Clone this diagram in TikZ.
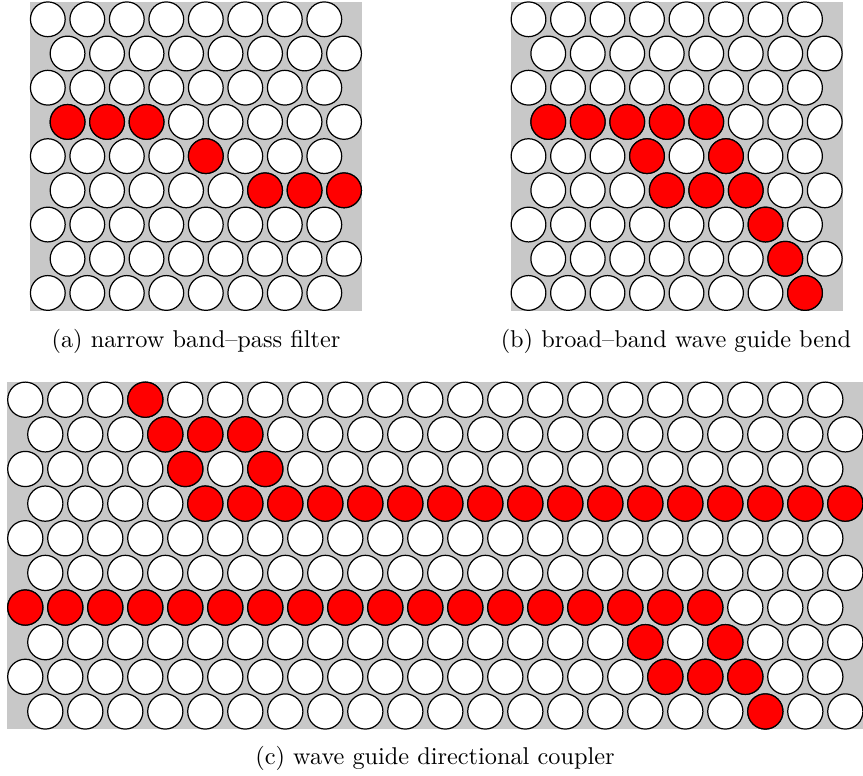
\documentclass[tikz,border=0pt]{standalone}
\usepackage{tikz}
\definecolor{hostgray}{RGB}{200,200,200}
\definecolor{rodred}{RGB}{255,0,0}
\tikzset{
  rod/.style={draw=black, line width=0.5pt, fill=white},
  defect/.style={rod, fill=rodred},
  slab/.style={fill=hostgray},
  caplabel/.style={inner sep=0pt, anchor=base}
}
% one rod of the triangular lattice, odd rows shifted by half a period
\newcommand{\placerod}[3][rod]{%
  \draw[#1] ({#2+0.5*mod(#3,2)},{-0.866*#3}) circle (0.44);}
% background slab and all rods
\newcommand{\rodlattice}[2]{%
  \pgfmathtruncatemacro{\lastcol}{#1-1}%
  \pgfmathtruncatemacro{\lastrow}{#2-1}%
  \fill[slab] (-0.45,0.45) rectangle ({\lastcol+0.95},{-0.866*\lastrow-0.45});
  \foreach \r in {0,...,\lastrow} {
    \foreach \c in {0,...,\lastcol} {\placerod{\c}{\r}}
  }
}

\begin{document}
\begin{tikzpicture}[x=0.41152pt,y=-0.41152pt]
\useasboundingbox (0,0) rectangle (863,776);

% (a) filter
\begin{scope}[shift={(47.8,19.3)},x=16.255pt,y=16.255pt]
  \rodlattice{8}{9}
  \foreach \c/\r in {0/3,1/3,2/3,4/4,5/5,6/5,7/5} {\placerod[defect]{\c}{\r}}
\end{scope}

% (b) bend
\begin{scope}[shift={(528.5,19.3)},x=16.255pt,y=16.255pt]
  \rodlattice{8}{9}
  \foreach \c/\r in {0/3,1/3,2/3,3/3,4/3,3/4,5/4,3/5,4/5,5/5,6/6,6/7,7/8}
    {\placerod[defect]{\c}{\r}}
\end{scope}

% (c) coupler
\begin{scope}[shift={(25.3,399.7)},x=16.461pt,y=16.461pt]
  \rodlattice{21}{10}
  \foreach \c/\r in {3/0,3/1,4/1,5/1,4/2,6/2,15/7,17/7,16/8,17/8,18/8,18/9}
    {\placerod[defect]{\c}{\r}}
  \foreach \c in {4,...,20} {\placerod[defect]{\c}{3}}
  \foreach \c in {0,...,17} {\placerod[defect]{\c}{6}}
\end{scope}

\node[caplabel] (cap-a) at (196,347) {(a) narrow band--pass filter};
\node[caplabel] (cap-b) at (676,347) {(b) broad--band wave guide bend};
\node[caplabel] (cap-c) at (435,764) {(c) wave guide directional coupler};
\end{tikzpicture}
\end{document}
